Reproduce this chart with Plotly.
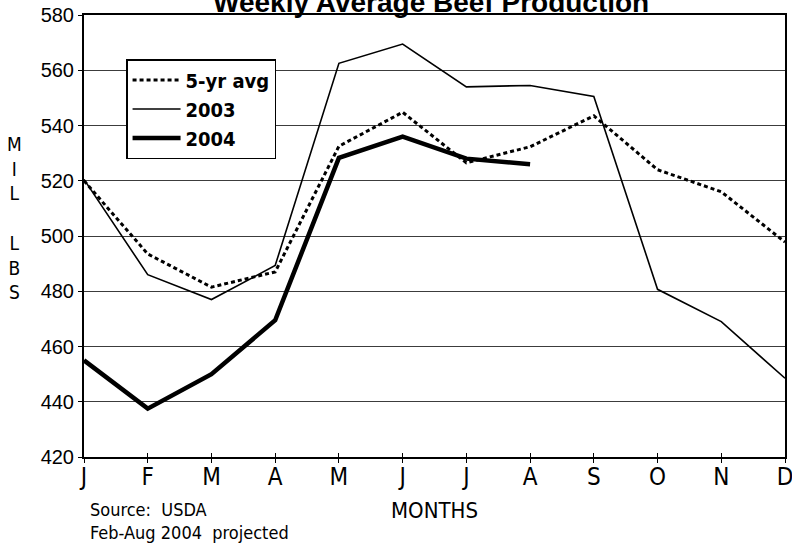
import plotly.graph_objects as go

# Month index and tick letters
months = list(range(12))
month_labels = ["J", "F", "M", "A", "M", "J", "J", "A", "S", "O", "N", "D"]

# Weekly average beef production, million lbs
avg_5yr = [520, 493.5, 481.5, 487, 532.5, 544.8, 526.5, 532.3, 543.5, 524, 516, 497.8]
prod_2003 = [520.5, 486, 477, 489.3, 562.5, 569.5, 554, 554.5, 550.5, 480.7, 469, 448.5]
prod_2004 = [455, 437.5, 450, 469.5, 528.3, 536, 528, 526]

y_ticks = [420, 440, 460, 480, 500, 520, 540, 560, 580]

NARROW = "DejaVu Sans Condensed, DejaVu Sans, sans-serif"
REGULAR = "Liberation Sans, Arial, sans-serif"


def narrow(size, **kw):
    return dict(family=NARROW, size=size, color="black", **kw)


fig = go.Figure()
fig.add_trace(go.Scatter(
    x=months, y=avg_5yr, name="5-yr avg", mode="lines",
    line=dict(color="black", width=3, dash="4px,3px"),
))
fig.add_trace(go.Scatter(
    x=months, y=prod_2003, name="2003", mode="lines",
    line=dict(color="black", width=1.6),
))
fig.add_trace(go.Scatter(
    x=months[:len(prod_2004)], y=prod_2004, name="2004", mode="lines",
    line=dict(color="black", width=4.5),
))
# Invisible trace that carries the inward half of the x tick marks
fig.add_trace(go.Scatter(x=[0, 11], y=[None, None], xaxis="x2", showlegend=False,
                         hoverinfo="skip"))

fig.update_layout(
    width=792, height=548,
    margin=dict(l=84, r=7, t=15, b=91, autoexpand=False),
    paper_bgcolor="white", plot_bgcolor="white",
    showlegend=True,
    legend=dict(
        x=0.06, y=(457 - 59) / 442, xanchor="left", yanchor="top",
        bgcolor="white", bordercolor="black", borderwidth=1.5,
        font=narrow(20, weight="bold"),
        tracegroupgap=0, itemwidth=48,
    ),
    xaxis=dict(
        range=[0, 11], tickvals=months, ticktext=month_labels,
        showgrid=False, zeroline=False, automargin=False,
        showline=True, linecolor="black", linewidth=2, mirror=True,
        ticks="outside", ticklen=4, tickcolor="black", tickwidth=1.2,
        ticklabelstandoff=-7, ticklabeloverflow="allow",
        tickfont=narrow(24),
    ),
    xaxis2=dict(
        range=[0, 11], overlaying="x", anchor="y", side="bottom",
        tickvals=months, showticklabels=False, showgrid=False, zeroline=False,
        automargin=False,
        showline=False, ticks="inside", ticklen=4, tickcolor="black", tickwidth=1.2,
    ),
    yaxis=dict(
        range=[420, 580], tickvals=y_ticks, automargin=False,
        showgrid=True, gridcolor="#3c3c3c", gridwidth=1.4, zeroline=False,
        showline=True, linecolor="black", linewidth=2, mirror=True,
        ticks="outside", ticklen=4, tickcolor="black", tickwidth=1.2,
        tickfont=dict(family=REGULAR, size=20, color="black"),
    ),
    annotations=[
        dict(text="<b>Weekly Average Beef Production</b>", xref="paper", yref="paper",
             x=0.495, y=(457 - 20) / 442, xanchor="center", yanchor="bottom",
             showarrow=False, font=dict(family=REGULAR, size=28, color="black")),
        dict(text="M<br>I<br>L<br> <br>L<br>B<br>S", xref="paper", yref="paper",
             x=-70 / 701, y=(457 - 218) / 442, xanchor="center", yanchor="middle",
             showarrow=False, align="center",
             font=narrow(19)),
        dict(text="MONTHS", xref="paper", yref="paper",
             x=(435 - 84) / 701, y=(457 - 510) / 442, xanchor="center", yanchor="middle",
             showarrow=False, font=narrow(22)),
        dict(text="Source:  USDA<br>Feb-Aug 2004  projected", xref="paper", yref="paper",
             x=(88 - 84) / 701, y=(457 - 521) / 442, xanchor="left", yanchor="middle",
             showarrow=False, align="left",
             font=narrow(18)),
    ],
)

fig.write_html("out.html")
